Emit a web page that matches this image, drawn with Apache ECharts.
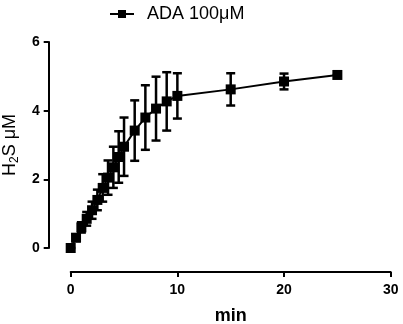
<!DOCTYPE html>
<html>
<head>
<meta charset="utf-8">
<script src="https://cdn.jsdelivr.net/npm/echarts@6/dist/echarts.min.js"></script>
<style>html,body{margin:0;padding:0;background:#fff}#c{width:403px;height:324px}</style>
</head>
<body>
<div id="c"></div>
<script>
var times  = [0, 0.5, 1, 1.5, 2, 2.5, 3, 3.5, 4, 4.5, 5, 6, 7, 8, 9, 10, 15, 20, 25];
var means  = [0, 0.3, 0.6, 0.85, 1.1, 1.4, 1.75, 2.05, 2.35, 2.65, 2.95, 3.42, 3.8, 4.06, 4.27, 4.43, 4.62, 4.85, 5.04];
var errors = [0, 0.1, 0.15, 0.2, 0.25, 0.3, 0.4, 0.5, 0.6, 0.75, 0.85, 0.88, 0.94, 0.93, 0.85, 0.66, 0.47, 0.23, 0];
var yTicks = [0, 2, 4, 6];
var xTicks = [0, 10, 20, 30];
var seriesName = 'ADA 100\u03bcM';

var lineData = times.map(function (t, i) { return [t, means[i]]; });
var errData = times.map(function (t, i) { return [t, means[i] - errors[i], means[i] + errors[i]]; });

var FONT = 'Liberation Sans, Arial, sans-serif';
var X_OFF = 24, Y_OFF = 22;
var chart = echarts.init(document.getElementById('c'));
chart.setOption({
  animation: false,
  backgroundColor: '#fff',
  legend: {
    left: 104, top: 0,
    itemWidth: 24, itemHeight: 10, itemGap: 10,
    textStyle: { fontFamily: FONT, fontSize: 18, color: '#000', padding: [0, 0, 0, 8] },
    data: [seriesName]
  },
  grid: { left: 70.7, right: 12.3, top: 42, bottom: 76, containLabel: false, outerBoundsMode: 'none' },
  xAxis: {
    type: 'value', min: 0, max: 30, interval: 10,
    offset: X_OFF,
    name: 'min', nameLocation: 'middle', nameGap: 35,
    nameTextStyle: { fontFamily: FONT, fontSize: 18, fontWeight: 'bold', color: '#000' },
    axisLine: { show: true, onZero: false, lineStyle: { color: '#000', width: 2 } },
    axisTick: { show: true, length: 5, lineStyle: { color: '#000', width: 2 } },
    axisLabel: { margin: 11, fontFamily: FONT, fontSize: 14, fontWeight: 'bold', color: '#000',
      formatter: function (v) { return xTicks.indexOf(v) >= 0 ? String(v) : ''; } },
    splitLine: { show: false }
  },
  yAxis: {
    type: 'value', min: 0, max: 6, interval: 2,
    offset: Y_OFF,
    name: 'H{s|2}S \u03bcM', nameLocation: 'middle', nameGap: 21,
    nameTextStyle: { fontFamily: FONT, fontSize: 18, color: '#000',
      rich: { s: { fontSize: 12, verticalAlign: 'bottom', padding: [9, 0, 0, 0], fontFamily: FONT } } },
    axisLine: { show: true, onZero: false, lineStyle: { color: '#000', width: 2 } },
    axisTick: { show: true, length: 5, lineStyle: { color: '#000', width: 2 } },
    axisLabel: { margin: 9, fontFamily: FONT, fontSize: 14, fontWeight: 'bold', color: '#000',
      formatter: function (v) { return yTicks.indexOf(v) >= 0 ? String(v) : ''; } },
    splitLine: { show: false }
  },
  series: [
    {
      name: seriesName, type: 'line', data: lineData,
      symbol: 'rect', symbolSize: 10, showAllSymbol: true,
      lineStyle: { color: '#000', width: 2 },
      itemStyle: { color: '#000' },
      z: 3
    },
    {
      type: 'custom', data: errData, z: 2,
      renderItem: function (params, api) {
        var x = api.value(0);
        var lo = api.coord([x, api.value(1)]);
        var hi = api.coord([x, api.value(2)]);
        var w = 4.5;
        var st = { stroke: '#000', lineWidth: 2.5 };
        return {
          type: 'group',
          children: [
            { type: 'line', shape: { x1: hi[0], y1: hi[1], x2: lo[0], y2: lo[1] }, style: st },
            { type: 'line', shape: { x1: hi[0] - w, y1: hi[1], x2: hi[0] + w, y2: hi[1] }, style: st },
            { type: 'line', shape: { x1: lo[0] - w, y1: lo[1], x2: lo[0] + w, y2: lo[1] }, style: st }
          ]
        };
      }
    }
  ]
});
</script>
</body>
</html>
